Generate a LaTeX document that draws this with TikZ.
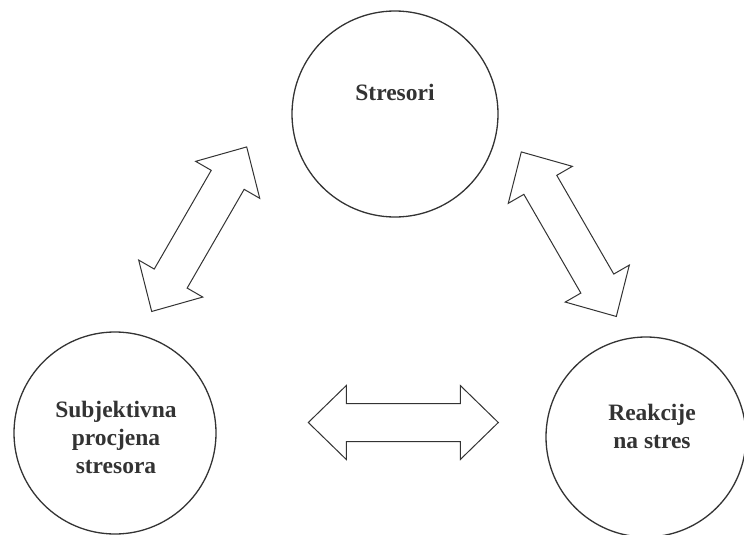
\documentclass[tikz,border=0pt]{standalone}
\usepackage{fontspec}
\setmainfont{Liberation Serif}
\definecolor{ink}{HTML}{333333}
\tikzset{
  dblarrow/.pic={
    \draw[dbl] (-95,0) -- (-57,-37) -- (-57,-19) -- (57,-19) -- (57,-37) -- (95,0)
      -- (57,37) -- (57,19) -- (-57,19) -- (-57,37) -- cycle;
  }
}
\begin{document}
\begin{tikzpicture}[x=1pt,y=-1pt,
  circ/.style={circle, draw=ink, line width=1.3pt, minimum size=#1, inner sep=0pt},
  lbl/.style={font=\bfseries\fontsize{23.5}{28}\selectfont, text=ink, align=center, inner sep=0pt},
  dbl/.style={draw=ink, line width=1pt, fill=white, line join=miter}]
\useasboundingbox (0,0) rectangle (744,535);
\clip (0,0) rectangle (744,535);
\fill[white] (0,0) rectangle (744,535);
% circles
\node[circ=206pt] (top) at (395,114) {};
\node[circ=202pt] (left) at (115,433) {};
\node[circ=200pt] (right) at (646,437) {};
% labels
\node[lbl] (ttop) at (395,92) {Stresori};
\node[lbl] (tleft) at (116,437) {Subjektivna\\procjena\\stresora};
\node[lbl] (tright) at (652,426) {Reakcije\\na stres};
% double arrows
\pic[rotate=60] at (199.2,229.2) {dblarrow};
\pic[rotate=120] at (568.8,234.2) {dblarrow};
\pic at (403.3,422.5) {dblarrow};
\end{tikzpicture}
\end{document}
